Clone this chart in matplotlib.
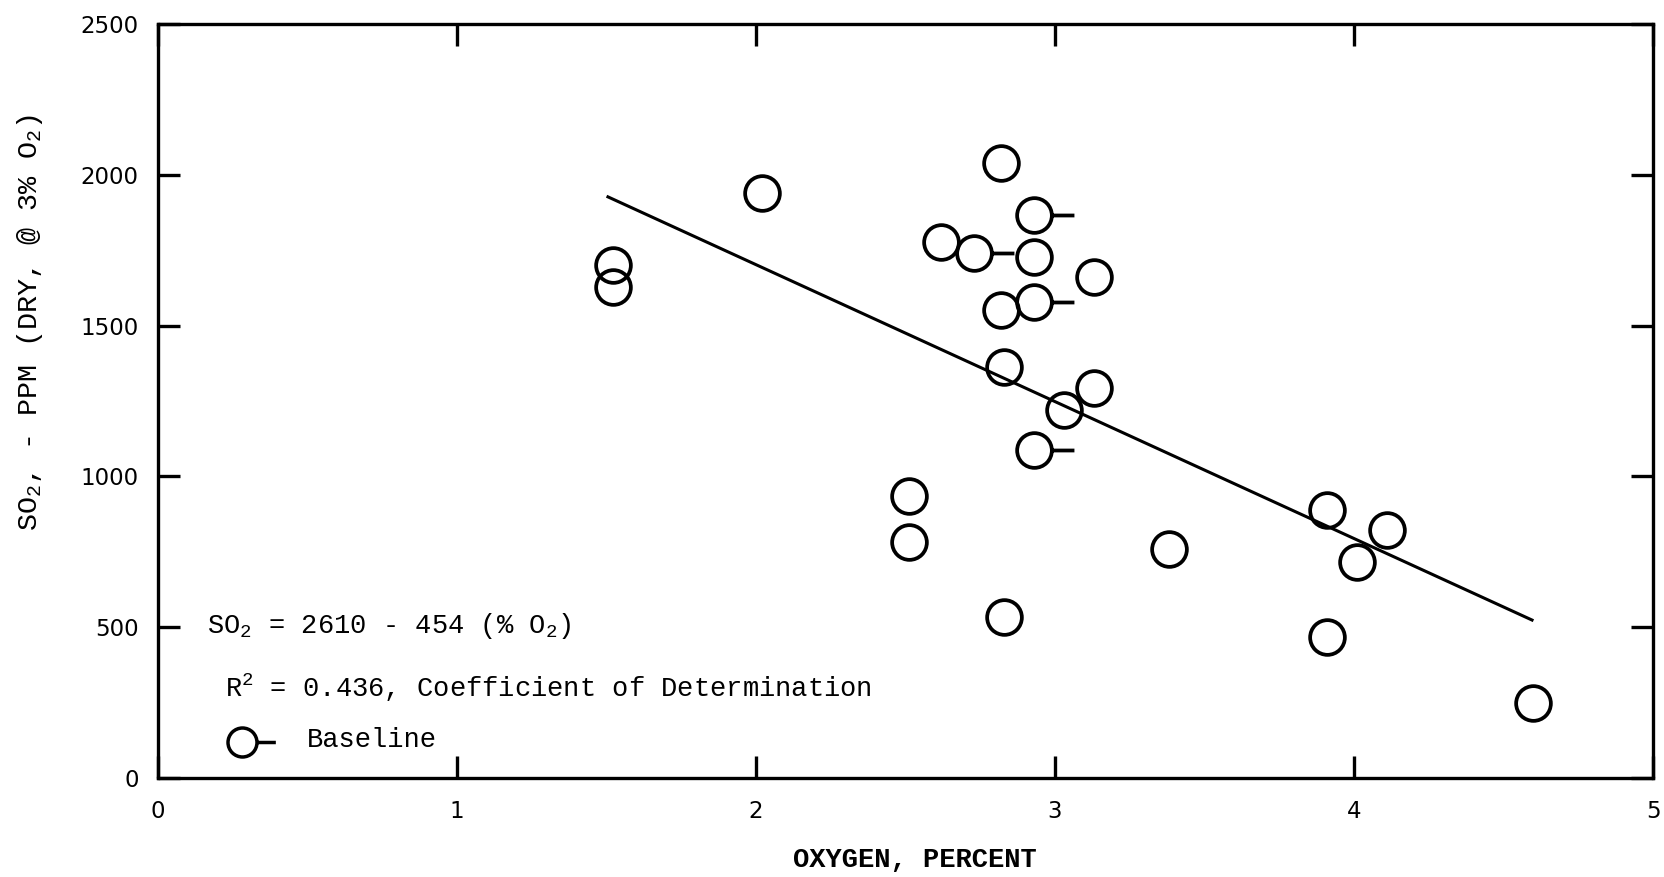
import numpy as np
import matplotlib
matplotlib.use("Agg")
import matplotlib.pyplot as plt
from matplotlib.path import Path

plt.rcParams['mathtext.fontset'] = 'custom'
plt.rcParams['mathtext.rm'] = 'Liberation Mono'
plt.rcParams['mathtext.it'] = 'Liberation Mono'
plt.rcParams['mathtext.bf'] = 'Liberation Mono:bold'

# Data
baseline_o2 = [2.93, 2.73, 2.93, 2.93]
baseline_so2 = [1867, 1741, 1578, 1088]

other_o2 = [1.52, 1.52, 2.02, 2.82, 2.62, 2.93, 3.13, 2.82, 2.83, 3.13, 3.03,
            2.51, 2.51, 2.83, 3.38, 3.91, 4.11, 4.01, 3.91, 4.60]
other_so2 = [1701, 1628, 1940, 2039, 1777, 1727, 1661, 1552, 1363, 1293, 1220,
             935, 781, 534, 760, 889, 822, 716, 468, 249]

# Regression: SO2 = 2610 - 454 (% O2)
fit_a, fit_b = 2610, -454
fit_range = [1.5, 4.6]

x_ticks = [0, 1, 2, 3, 4, 5]
y_ticks = [0, 500, 1000, 1500, 2000, 2500]

mono = 'Liberation Mono'

# circle with a short tail to the right ("O-" symbol)
tail_path = Path.make_compound_path(
    Path.unit_circle(),
    Path([[1.0, 0.0], [2.3, 0.0]], [Path.MOVETO, Path.LINETO]))

fig = plt.figure(figsize=(16.64, 8.77), dpi=100)
ax = fig.add_axes([0.0950, 0.1129, 0.8984, 0.8597])

fx = np.array(fit_range)
ax.plot(fx, fit_a + fit_b * fx, color='black', lw=2.2, solid_capstyle='butt', zorder=2)

ax.plot(other_o2, other_so2, linestyle='none', marker='o', markersize=25,
        markerfacecolor='none', markeredgecolor='black', markeredgewidth=2.7, zorder=3)
ax.plot(baseline_o2, baseline_so2, linestyle='none', marker=tail_path, markersize=57.5,
        markerfacecolor='none', markeredgecolor='black', markeredgewidth=2.7, zorder=3)

ax.set_xlim(0, 5)
ax.set_ylim(0, 2500)
ax.set_xticks(x_ticks)
ax.set_yticks(y_ticks)
ax.tick_params(direction='in', top=True, right=True, length=16, width=2.4,
               labelsize=16.5)
ax.tick_params(axis='x', pad=16)
ax.tick_params(axis='y', pad=14)
for lab in ax.get_xticklabels() + ax.get_yticklabels():
    lab.set_family('DejaVu Sans')
for sp in ax.spines.values():
    sp.set_linewidth(2.4)

# equation block
ax.text(0.164, 481, 'SO$_2$ = 2610 - 454 (% O$_2$)', family=mono, fontsize=19.5,
        va='baseline', ha='left')
ax.text(0.225, 268, 'R$^2$ = 0.436, Coefficient of Determination', family=mono,
        fontsize=19.5, va='baseline', ha='left')
ax.plot([0.28], [119], linestyle='none', marker=tail_path, markersize=48,
        markerfacecolor='none', markeredgecolor='black', markeredgewidth=2.5,
        clip_on=False)
ax.text(0.498, 103, 'Baseline', family=mono, fontsize=19.5, va='baseline', ha='left')

fig.text(915 / 1664, 1 - 860 / 877, 'OXYGEN, PERCENT', family=mono, fontsize=19.5,
         fontweight='bold', ha='center', va='center')
fig.text(30 / 1664, 1 - 323 / 877, 'SO$_2$, - PPM (DRY, @ 3% O$_2$)', family=mono,
         fontsize=20.5, rotation=90, ha='center', va='center')

fig.savefig('out.png', dpi=100)
